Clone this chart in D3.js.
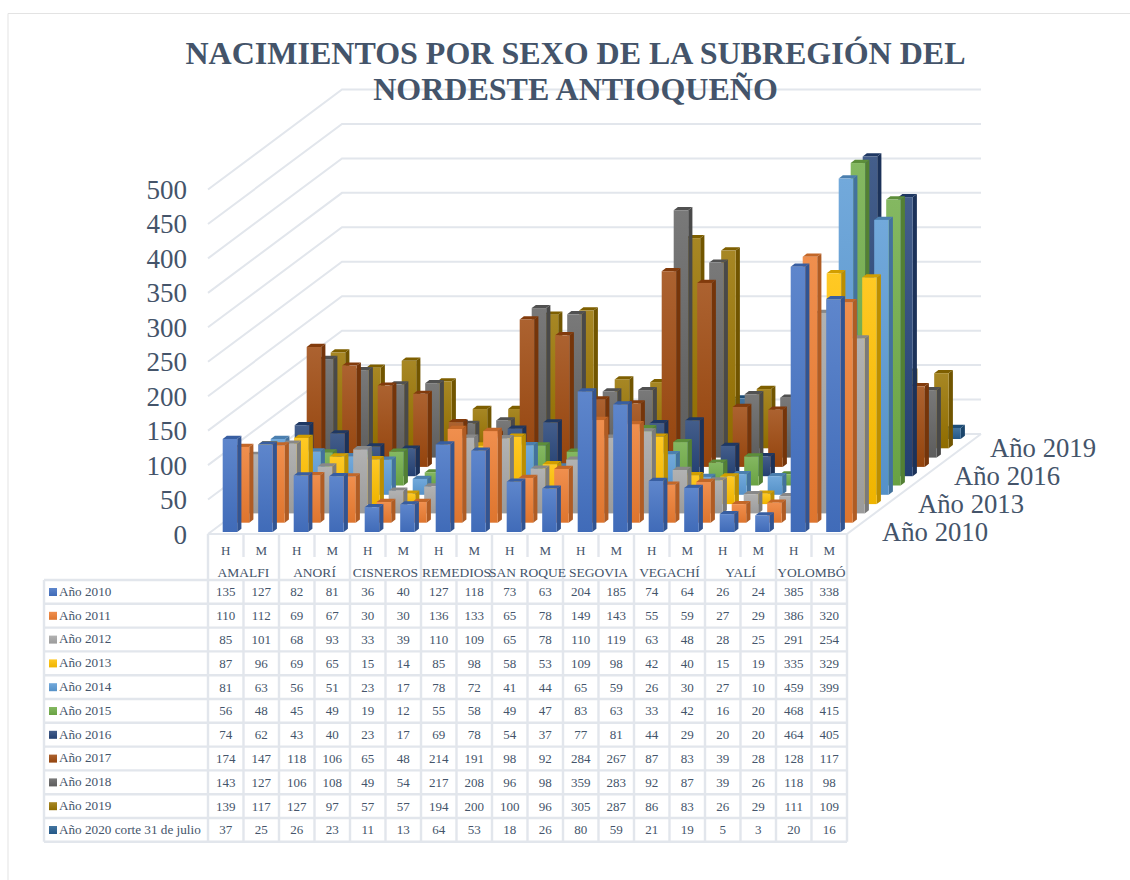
<!DOCTYPE html>
<html><head><meta charset="utf-8">
<script src="https://cdn.jsdelivr.net/npm/d3@7"></script>
<style>html,body{margin:0;padding:0;background:#fff}svg{display:block}text{font-family:"Liberation Serif",serif;fill:#44546A}</style>
</head><body><svg id="c" width="1130" height="880"></svg>
<script>
const titleLines=["NACIMIENTOS POR SEXO DE LA SUBREGIÓN DEL","NORDESTE ANTIOQUEÑO"];
const municipios=["AMALFI","ANORÍ","CISNEROS","REMEDIOS","SAN ROQUE","SEGOVIA","VEGACHÍ","YALÍ","YOLOMBÓ"];
const sexos=["H","M"];
const seriesNames=["Año 2010","Año 2011","Año 2012","Año 2013","Año 2014","Año 2015","Año 2016","Año 2017","Año 2018","Año 2019","Año 2020 corte 31 de julio"];
const depthTickIdx=[0,3,6,9];
const yTicks=[0,50,100,150,200,250,300,350,400,450,500];
const colors=["#4472C4","#ED7D31","#A5A5A5","#FFC000","#5B9BD5","#70AD47","#264478","#9E480E","#636363","#997300","#255E91"];
const a2010=[135,127,82,81,36,40,127,118,73,63,204,185,74,64,26,24,385,338];
const a2011=[110,112,69,67,30,30,136,133,65,78,149,143,55,59,27,29,386,320];
const a2012=[85,101,68,93,33,39,110,109,65,78,110,119,63,48,28,25,291,254];
const a2013=[87,96,69,65,15,14,85,98,58,53,109,98,42,40,15,19,335,329];
const a2014=[81,63,56,51,23,17,78,72,41,44,65,59,26,30,27,10,459,399];
const a2015=[56,48,45,49,19,12,55,58,49,47,83,63,33,42,16,20,468,415];
const a2016=[74,62,43,40,23,17,69,78,54,37,77,81,44,29,20,20,464,405];
const a2017=[174,147,118,106,65,48,214,191,98,92,284,267,87,83,39,28,128,117];
const a2018=[143,127,106,108,49,54,217,208,96,98,359,283,92,87,39,26,118,98];
const a2019=[139,117,127,97,57,57,194,200,100,96,305,287,86,83,26,29,111,109];
const a2020=[37,25,26,23,11,13,64,53,18,26,80,59,21,19,5,3,20,16];
const table=[a2010,a2011,a2012,a2013,a2014,a2015,a2016,a2017,a2018,a2019,a2020];

const svg=d3.select("#c");
const grid="#e2e6ec";
const frontX=208,frontR=847,floorY=534,wallDx=134,wallDy=-100;
const cols=d3.range(18);
const x=d3.scaleBand().domain(cols).range([frontX,frontR]);
const y=d3.scaleLinear().domain([0,500]).range([0,344.5]);
const dX=d3.scaleLinear().domain([0,1]).range([0,12]);
const dY=d3.scaleLinear().domain([0,1]).range([-2,-11.3]);
const barOff=14.7,barW=14.5,bx=4.2,by=3.2;

// frame
svg.append("path").attr("d","M8,880V13.5H1130").attr("fill","none").attr("stroke","#e3e3e3").attr("stroke-width",1);

// walls
const g=svg.append("g");
yTicks.forEach(t=>{
  const h=y(t);
  g.append("path").attr("d",`M${frontX},${floorY-h}L${frontX+wallDx},${floorY+wallDy-h}H${frontR+wallDx}`)
   .attr("fill","none").attr("stroke",grid).attr("stroke-width",2);
  g.append("text").text(t).attr("x",187).attr("y",floorY-h+9.5).attr("text-anchor","end").attr("font-size",27);
});
g.append("path").attr("d",`M${frontX},${floorY}H${frontR}L${frontR+wallDx},${floorY+wallDy}`)
 .attr("fill","none").attr("stroke",grid).attr("stroke-width",2);

// gradients
const defs=svg.append("defs");
colors.forEach((c,i)=>{
  const top=d3.interpolateRgb(c,"#ffffff")(0.14), bot=d3.color(c).darker(0.18).formatHex();
  const gr=defs.append("linearGradient").attr("id","f"+i).attr("x1",0).attr("y1",0).attr("x2",0).attr("y2",1);
  gr.append("stop").attr("offset",0).attr("stop-color",top);
  gr.append("stop").attr("offset",1).attr("stop-color",bot);
});

// bars, back row first
const bars=svg.append("g");
d3.range(table.length-1,-1,-1).forEach(s=>{
  const row=bars.append("g");
  cols.forEach(k=>{
    const x0=x(k)+barOff+dX(s), base=floorY+dY(s), h=y(table[s][k]);
    const c=d3.color(colors[s]);
    const b=row.append("g");
    b.append("path").attr("d",`M${x0+barW},${base}V${base-h}l${bx},${-by}V${base-by}Z`).attr("fill",c.darker(0.85).formatHex());
    b.append("path").attr("d",`M${x0},${base-h}h${barW}l${bx},${-by}h${-barW}Z`).attr("fill",c.darker(0.55).formatHex());
    b.append("rect").attr("x",x0).attr("y",base-h).attr("width",barW).attr("height",h).attr("fill",`url(#f${s})`);
  });
});

// depth axis labels
depthTickIdx.forEach(s=>{
  svg.append("text").text(seriesNames[s]).attr("x",882+dX(s)).attr("y",541+d3.scaleLinear().domain([0,9]).range([0,-84])(s)).attr("font-size",26.7);
});

// title
titleLines.forEach((t,i)=>svg.append("text").text(t).attr("x",575.5).attr("y",63.5+i*36.5).attr("text-anchor","middle").attr("font-size",32).attr("font-weight","bold"));

// table
const tTop=580,rowH=23.8,tLeft=44,tBottom=tTop+rowH*11;
const tg=svg.append("g");
const line=(a,b,c,d)=>tg.append("line").attr("x1",a).attr("y1",b).attr("x2",c).attr("y2",d).attr("stroke",grid).attr("stroke-width",2.4);
d3.range(12).forEach(r=>line(tLeft,tTop+r*rowH,frontR,tTop+r*rowH));
line(tLeft,tTop,tLeft,tBottom);
d3.range(19).forEach(k=>{
  const xx=k<18?x(k):frontR;
  if(k%2==0) line(xx,floorY,xx,tBottom);
  else { line(xx,floorY,xx,557); line(xx,tTop,xx,tBottom); }
});
cols.forEach(k=>{
  tg.append("text").text(sexos[k%2]).attr("x",x(k)+x.bandwidth()/2).attr("y",555).attr("text-anchor","middle").attr("font-size",13);
});
municipios.forEach((m,i)=>{
  tg.append("text").text(m).attr("x",x(i*2)+x.bandwidth()).attr("y",577).attr("text-anchor","middle").attr("font-size",13.5);
});
seriesNames.forEach((n,s)=>{
  const ty=tTop+s*rowH;
  tg.append("rect").attr("x",49).attr("y",ty+8).attr("width",8).attr("height",8).attr("fill",`url(#f${s})`);
  tg.append("text").text(n).attr("x",59).attr("y",ty+15.7).attr("font-size",13.2);
  cols.forEach(k=>tg.append("text").text(table[s][k]).attr("x",x(k)+x.bandwidth()/2).attr("y",ty+16.4).attr("text-anchor","middle").attr("font-size",13));
});
</script></body></html>
